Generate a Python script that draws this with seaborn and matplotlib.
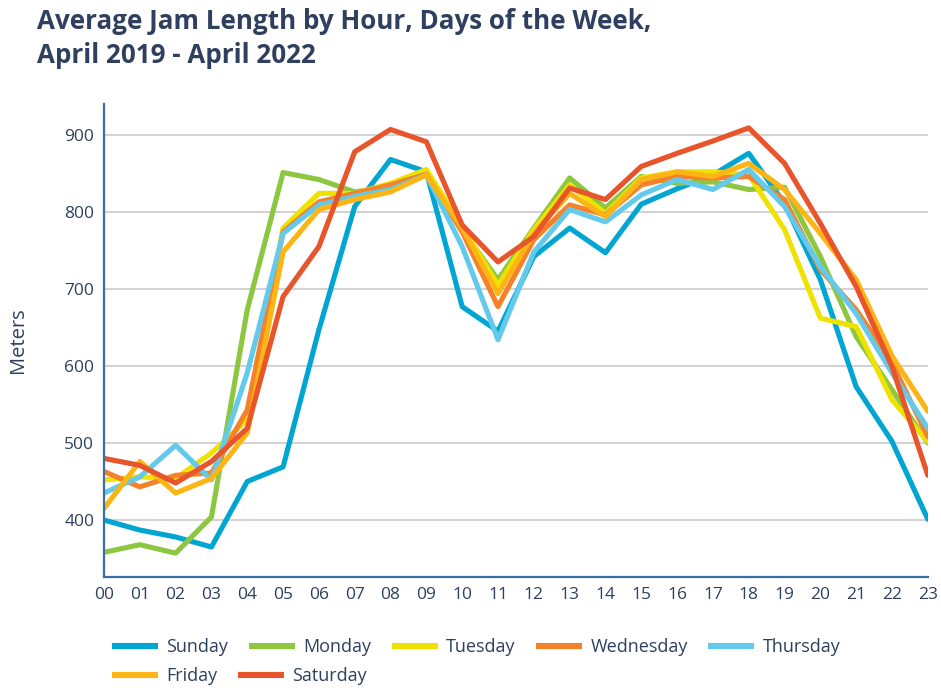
import matplotlib
matplotlib.use("Agg")
import matplotlib.pyplot as plt
import seaborn as sns
import pandas as pd

# datos (metros, por hora)
horas = ['00', '01', '02', '03', '04', '05', '06', '07', '08', '09', '10', '11',
         '12', '13', '14', '15', '16', '17', '18', '19', '20', '21', '22', '23']

domingo = [400, 387, 378, 365, 450, 469, 647, 807, 868, 852, 677, 645,
           742, 779, 747, 810, 830, 848, 876, 811, 712, 573, 502, 401]
lunes = [358, 368, 357, 404, 673, 851, 842, 826, 832, 852, 777, 712,
         779, 844, 805, 846, 837, 839, 829, 832, 742, 638, 569, 500]
martes = [452, 456, 454, 487, 530, 779, 824, 824, 837, 855, 781, 705,
          777, 835, 798, 844, 852, 852, 848, 777, 662, 651, 556, 502]
miercoles = [463, 443, 458, 461, 543, 774, 813, 824, 835, 849, 774, 677,
             764, 809, 796, 835, 846, 844, 846, 816, 725, 673, 604, 508]
jueves = [435, 456, 497, 452, 591, 772, 809, 820, 829, 848, 755, 634,
          748, 803, 787, 822, 842, 829, 855, 807, 729, 668, 591, 519]
viernes = [415, 476, 435, 454, 513, 748, 803, 816, 826, 848, 779, 694,
           772, 824, 794, 842, 852, 846, 863, 829, 772, 712, 613, 541]
sabado = [480, 471, 448, 476, 519, 690, 755, 878, 907, 891, 783, 735,
          768, 831, 816, 859, 876, 892, 909, 863, 785, 703, 599, 458]

dias = ['Sunday', 'Monday', 'Tuesday', 'Wednesday', 'Thursday', 'Friday', 'Saturday']
series = [domingo, lunes, martes, miercoles, jueves, viernes, sabado]
colores = ['#00A6D1', '#8DC63F', '#EFE200', '#F5822A', '#64CAEB', '#FDB515', '#E8552B']

filas = []
for dia, valores in zip(dias, series):
    for i, v in enumerate(valores):
        filas.append({'Hora': i, 'Dia': dia, 'Metros': v})
df = pd.DataFrame(filas)

sns.set_style('white')
plt.rcParams['font.family'] = ['Open Sans', 'DejaVu Sans']

texto = '#2E3F5F'
eje = '#3A6EA5'

fig = plt.figure(figsize=(9.41, 6.88), dpi=100)
ax = fig.add_axes([0.1105, 0.1613, 0.8755, 0.6875])

sns.lineplot(data=df, x='Hora', y='Metros', hue='Dia', hue_order=dias,
             palette=colores, linewidth=3.7, ax=ax, legend=False)

ax.set_xlim(0, 23)
ax.set_ylim(326, 940)
ax.set_xticks(range(24))
ax.set_xticklabels(horas)
ax.set_yticks([400, 500, 600, 700, 800, 900])
ax.tick_params(axis='both', length=0, labelsize=12.5, colors=texto, pad=7)
ax.grid(axis='y', color='#CFCFCF', linewidth=1.3)
ax.set_axisbelow(True)
for lado in ['top', 'right']:
    ax.spines[lado].set_visible(False)
for lado in ['left', 'bottom']:
    ax.spines[lado].set_color(eje)
    ax.spines[lado].set_linewidth(1.6)

ax.set_xlabel('')
ax.set_ylabel('Meters', fontsize=14.5, color=texto)
ax.yaxis.set_label_coords(-0.092, 0.5)

fig.text(0.039, 0.988, 'Average Jam Length by Hour, Days of the Week,\nApril 2019 - April 2022',
         fontsize=18.7, fontweight='bold', color=texto, va='top', ha='left', linespacing=1.3)

# leyenda en dos filas independientes (como en el original, que fluye por filas)
handles = [plt.Line2D([0], [0], color=c, linewidth=4.4, solid_capstyle='butt') for c in colores]
opciones = dict(loc='center left', frameon=False, fontsize=13, labelcolor=texto,
                handlelength=2.55, handletextpad=0.45, columnspacing=1.15,
                borderaxespad=0, borderpad=0)
fig.legend(handles[:5], dias[:5], ncol=5, bbox_to_anchor=(0.119, 0.0596), **opciones)
fig.legend(handles[5:], dias[5:], ncol=2, bbox_to_anchor=(0.119, 0.0174), **opciones)

plt.savefig('out.png', dpi=100)
